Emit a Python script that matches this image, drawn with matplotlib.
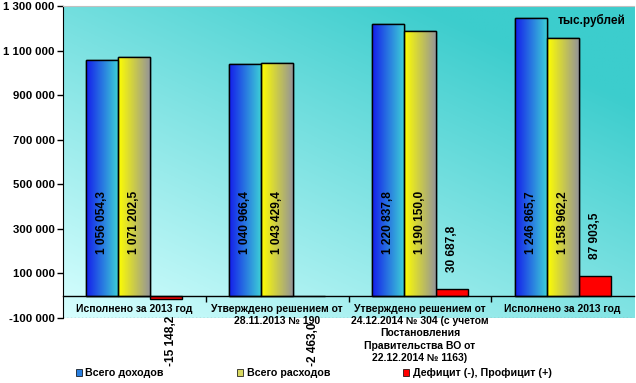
import numpy as np
import matplotlib.pyplot as plt
from matplotlib.patches import Patch

categories = ['Исполнено за 2013 год',
              'Утверждено решением от\n28.11.2013 № 190',
              'Утверждено решением от\n24.12.2014 № 304 (с учетом\nПостановления\nПравительства ВО от\n22.12.2014 № 1163)',
              'Исполнено за 2013 год']
income = [1056054.3, 1040966.4, 1220837.8, 1246865.7]
expense = [1071202.5, 1043429.4, 1190150.0, 1158962.2]
balance = [-15148.2, -2463.0, 30687.8, 87903.5]
series_names = ['Всего доходов', 'Всего расходов', 'Дефицит (-), Профицит (+)']
yticks = list(range(-100000, 1300001, 200000))

plt.rcParams['font.family'] = ['Liberation Sans', 'DejaVu Sans']
plt.rcParams['font.size'] = 7.5
plt.rcParams['font.weight'] = 'bold'


def fmt(v):
    s = '{:,.1f}'.format(abs(v)).replace(',', ' ').replace('.', ',')
    return ('-' if v < 0 else '') + s


def fmt_tick(v):
    return '{:,d}'.format(v).replace(',', ' ')


fig = plt.figure(figsize=(6.36, 3.83), dpi=100)
ax = fig.add_axes([0.099, 0.1697, 0.898, 0.8143])
ax.set_xlim(0, 4)
ax.set_ylim(-100000, 1300000)

# plot area background gradient (dark top-right, light bottom-left)
gx, gy = np.meshgrid(np.linspace(0, 1, 200), np.linspace(1, 0, 200))
t = np.clip(0.55 * gx + 0.65 * gy, 0, 1)[..., None]
light = np.array([215, 255, 255]) / 255
dark = np.array([60, 205, 205]) / 255
ax.imshow(light * (1 - t) + dark * t, extent=[0, 1, 0, 1], transform=ax.transAxes,
          aspect='auto', zorder=0)

x = np.arange(4)
w = 0.224
off = 0.5 - w

b1 = ax.bar(x + off, income, w, color='#2a7fe0', edgecolor='black', lw=1, zorder=2)
b2 = ax.bar(x + off + w, expense, w, color='#d8d860', edgecolor='black', lw=1, zorder=2)
b3 = ax.bar(x + off + 2 * w, balance, w, color='#ff0000', edgecolor='black', lw=1, zorder=2)


def grad_fill(bars, c0, c1):
    g = np.linspace(0, 1, 64)[None, :, None]
    img = np.array(c0)[None, None, :] / 255 * (1 - g) + np.array(c1)[None, None, :] / 255 * g
    for b in bars:
        x0, y0 = b.get_x(), b.get_y()
        im = ax.imshow(img, extent=[x0, x0 + b.get_width(), y0, y0 + b.get_height()],
                       aspect='auto', zorder=2.1)
        im.set_clip_path(b)
        ax.bar(x0 + b.get_width() / 2, b.get_height(), b.get_width(), bottom=y0,
               fill=False, edgecolor='black', lw=1, zorder=2.2)


grad_fill(b1, (20, 30, 235), (60, 205, 215))
grad_fill(b2, (255, 255, 0), (150, 150, 150))
ax.set_xlim(0, 4)
ax.set_ylim(-100000, 1300000)

for bars, vals in ((b1, income), (b2, expense)):
    for b, v in zip(bars, vals):
        ax.text(b.get_x() + b.get_width() / 2, 330000, fmt(v), rotation=90,
                ha='center', va='center', zorder=4, fontsize=8.6)
neg_offsets = [-14, -19]
k = 0
for b, v in zip(b3, balance):
    cx = b.get_x() + b.get_width() / 2
    if v >= 0:
        ax.annotate(fmt(v), (cx, v), xytext=(0, 12), textcoords='offset points',
                    rotation=90, ha='center', va='bottom', zorder=4, fontsize=8.6)
    else:
        ax.annotate(fmt(v), (cx, 0), xytext=(3, neg_offsets[k]), textcoords='offset points',
                    rotation=90, ha='center', va='top', zorder=4, fontsize=8.6,
                    annotation_clip=False)
        k += 1

# axes styling
ax.set_yticks(yticks)
ax.set_yticklabels([fmt_tick(v) for v in yticks], fontsize=8.2)
ax.tick_params(axis='y', length=4, width=1, pad=2)
ax.spines['right'].set_visible(False)
ax.spines['top'].set_color('#c0c0c0')
ax.spines['bottom'].set_position(('data', 0))
ax.spines['bottom'].set_linewidth(1)
ax.set_xticks([1, 2, 3])
ax.set_xticklabels([])
ax.tick_params(axis='x', length=4, width=1, direction='out')
ax.axhline(-100000, color='#909090', lw=1, ls=':', zorder=1)

for i, c in enumerate(categories):
    ax.annotate(c, (i + 0.5, 0), xytext=(0, -6), textcoords='offset points',
                ha='center', va='top', linespacing=1.27, zorder=4, annotation_clip=False)

ax.text(0.985, 0.975, 'тыс.рублей', transform=ax.transAxes, ha='right', va='top',
        zorder=4, fontsize=8.5)

handles = [Patch(facecolor='#2a7fe0', edgecolor='black', lw=0.5),
           Patch(facecolor='#d8d860', edgecolor='black', lw=0.5),
           Patch(facecolor='#ff0000', edgecolor='black', lw=0.5)]
leg = fig.legend(handles, series_names, loc='center left', bbox_to_anchor=(0.11, 0.025),
                 ncol=3, frameon=True, facecolor='white', edgecolor='white', framealpha=1,
                 handlelength=0.55, handleheight=0.55, handletextpad=0.3,
                 columnspacing=6.87, borderpad=0.1, fontsize=7.7)
leg.set_zorder(10)

fig.savefig('out.png', dpi=100, facecolor='white')
